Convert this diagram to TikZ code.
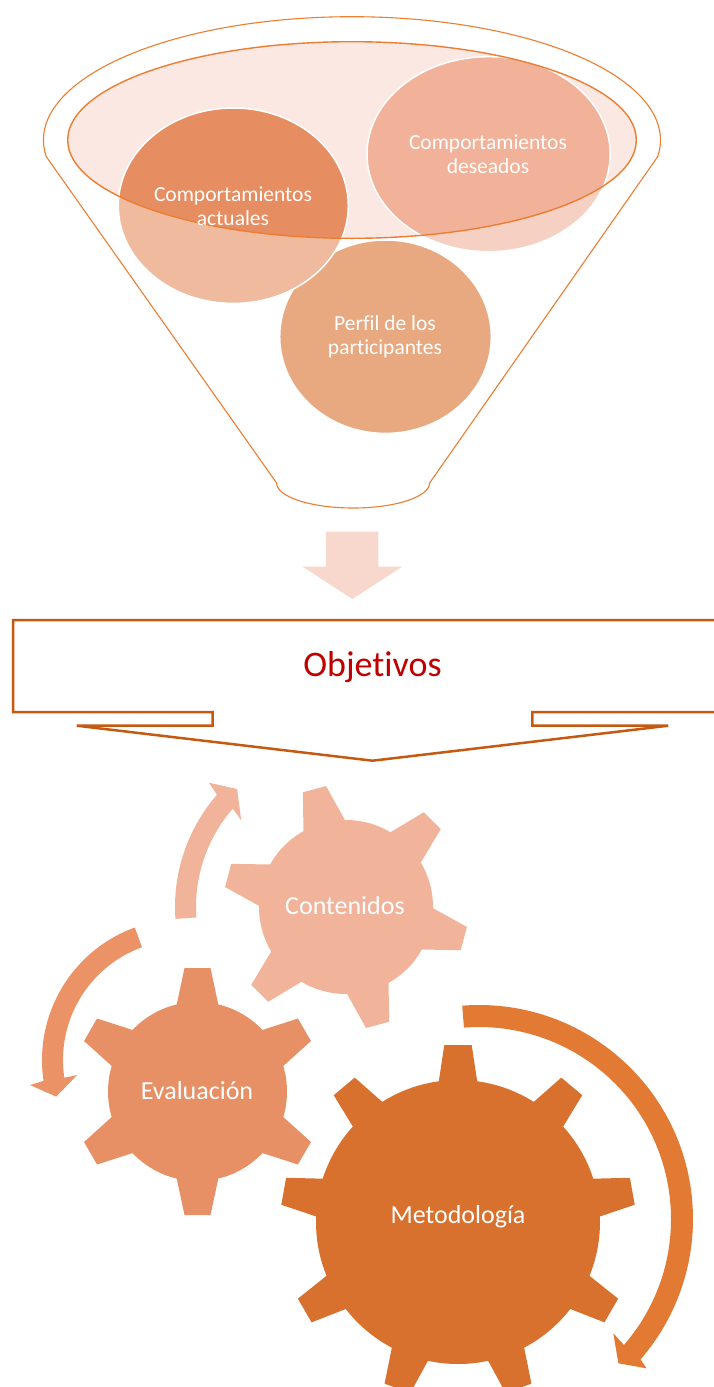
\documentclass[tikz,border=0pt]{standalone}
\usepackage{fontspec}
\setmainfont[Ligatures=NoCommon]{Carlito}
\definecolor{funnelline}{HTML}{ED7D31}
\definecolor{ellfill}{HTML}{FBE8E2}
\definecolor{actin}{HTML}{E68D62}
\definecolor{actout}{HTML}{F0BA9E}
\definecolor{desin}{HTML}{F2B29A}
\definecolor{desout}{HTML}{F6D1C3}
\definecolor{perfc}{HTML}{E8A981}
\definecolor{downarr}{HTML}{F8D8CC}
\definecolor{objline}{HTML}{C65911}
\definecolor{objtext}{HTML}{C00000}
\definecolor{contc}{HTML}{F2B39B}
\definecolor{evalc}{HTML}{E79065}
\definecolor{metc}{HTML}{D9712E}
\definecolor{arrA}{HTML}{F2B39B}
\definecolor{arrB}{HTML}{EB9366}
\definecolor{arrC}{HTML}{E27A33}
% #1 center, #2 colour, #3 body radius, #4 outer radius, #5 tooth base radius,
% #6 base half width, #7 tip half width, #8 number of teeth, #9 first angle
\newcommand{\mygear}[9]{%
  \begin{scope}[shift={#1}]
    \fill[#2] (0,0) circle (#3);
    \pgfmathsetmacro\gstep{360/#8}
    \foreach \k in {1,...,#8}{
      \fill[#2, rotate={#9+\k*\gstep}] (#5,-#6) -- (#4,-#7) -- (#4,#7) -- (#5,#6) -- cycle;
    }
  \end{scope}}
\tikzset{
  funnelstroke/.style={draw=funnelline, line width=1.1},
  ftext/.style={text=white, align=center, font=\fontsize{21.5}{24}\selectfont},
  gtext/.style={text=white, align=center, font=\fontsize{26}{30}\selectfont},
}
\begin{document}
\begin{tikzpicture}[x=1pt,y=1pt]
\useasboundingbox (0,0) rectangle (713,-1387);

% ---------- funnel ----------
\draw[funnelstroke] (46.35,-156.73) arc[start angle=187.8, end angle=-7.8, x radius=308.5, y radius=123.3]
   -- (429.6,-483) arc[start angle=0, end angle=-180, x radius=76.5, y radius=25] -- cycle;
\fill[ellfill] (352,-140) ellipse [x radius=284.3, y radius=98.3];

% perfil
\fill[perfc] (385.5,-336.7) ellipse [x radius=105.8, y radius=96.7];
\draw[white, line width=1.5] (385.5,-336.7) ellipse [x radius=105.8, y radius=96.7];

% deseados
\fill[desout] (488.6,-154.2) ellipse [x radius=121.6, y radius=97.5];
\begin{scope}
  \clip (352,-140) ellipse [x radius=284.3, y radius=98.3];
  \fill[desin] (488.6,-154.2) ellipse [x radius=121.6, y radius=97.5];
\end{scope}
\draw[white, line width=1.5] (488.6,-154.2) ellipse [x radius=121.6, y radius=97.5];

% actuales
\fill[actout] (233.3,-205.7) ellipse [x radius=115, y radius=97.7];
\begin{scope}
  \clip (352,-140) ellipse [x radius=284.3, y radius=98.3];
  \fill[actin] (233.3,-205.7) ellipse [x radius=115, y radius=97.7];
\end{scope}
\draw[white, line width=1.5] (233.3,-205.7) ellipse [x radius=115, y radius=97.7];

\draw[draw=funnelline, line width=1.4] (352,-140) ellipse [x radius=284.3, y radius=98.3];

\node[ftext] (actuales) at (233,-206.5) {Comportamientos\\actuales};
\node[ftext] (deseados) at (488,-153.7) {Comportamientos\\deseados};
\node[ftext] (perfil) at (385,-337) {Perfil de los\\participantes};

% ---------- down arrow ----------
\fill[downarr] (326,-531.7) -- (378.4,-531.7) -- (378.4,-566.7) -- (402.2,-566.7)
   -- (352.4,-599) -- (302.6,-566.7) -- (326,-566.7) -- cycle;

% ---------- objetivos ----------
\draw[objline, line width=2.5, line join=miter] (13,-620) -- (731,-620) -- (731,-712) -- (532.4,-712)
   -- (532.4,-725.7) -- (668.2,-725.7) -- (372.5,-760.7) -- (76.8,-725.7) -- (212.5,-725.7)
   -- (212.5,-712) -- (13,-712) -- cycle;
\node[text=objtext, font=\fontsize{36}{40}\selectfont] (obj) at (372.5,-667) {Objetivos};

% ---------- gears ----------
\mygear{(346,-907)}{contc}{87}{122}{78}{23}{12}{6}{45}
\mygear{(197.5,-1091.5)}{evalc}{89.5}{123.5}{80}{22.3}{13}{6}{30}
\mygear{(458,-1222)}{metc}{142}{177}{132}{20.5}{13.7}{9}{50}

\node[gtext] (cont) at (345,-906) {Contenidos};
\node[gtext] (eval) at (197,-1091) {Evaluación};
\node[gtext] (metod) at (458,-1217) {Metodología};

% ---------- circular arrows ----------
\begin{scope}[shift={(346,-907)}]
  \fill[arrA] (184:171) arc[start angle=184, end angle=139, radius=171] -- (137.8:185)
     -- (132.7:160.6) -- (140.4:136) -- (139:150) arc[start angle=139, end angle=184, radius=150] -- cycle;
\end{scope}
\begin{scope}[shift={(183,-1060)}]
  \fill[arrB] (110:141) arc[start angle=110, end angle=188.5, radius=141] -- (189.3:155)
     -- (196.1:132) -- (188.1:107) -- (188.5:120) arc[start angle=188.5, end angle=110, radius=120] -- cycle;
\end{scope}
\begin{scope}[shift={(479,-1219)}]
  \fill[arrC] (94.5:214) arc[start angle=94.5, end angle=-41, radius=214] -- (-41.7:224.5)
     -- (-46:200.6) -- (-40.4:176.4) -- (-41:192) arc[start angle=-41, end angle=94.5, radius=192] -- cycle;
\end{scope}
\end{tikzpicture}
\end{document}
